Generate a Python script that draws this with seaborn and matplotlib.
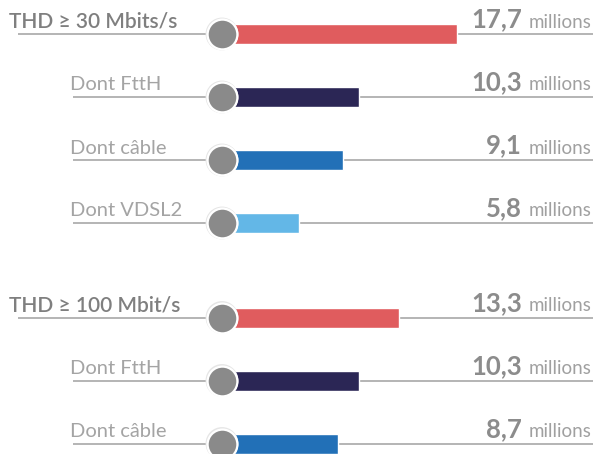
import matplotlib
matplotlib.use("Agg")
import matplotlib.pyplot as plt
import seaborn as sns
import pandas as pd
import numpy as np

# Categories and values (millions of lines)
labels = ["THD ≥ 30 Mbits/s", "Dont FttH", "Dont câble", "Dont VDSL2",
          "THD ≥ 100 Mbit/s", "Dont FttH", "Dont câble"]
values = [17.7, 10.3, 9.1, 5.8, 13.3, 10.3, 8.7]
value_text = ["17,7", "10,3", "9,1", "5,8", "13,3", "10,3", "8,7"]
is_header = [True, False, False, False, True, False, False]
bar_colors = ["#e05c5e", "#2b2655", "#2270b7", "#63b7e7",
              "#e05c5e", "#2b2655", "#2270b7"]
row_pos = [0, 1, 2, 3, 4.5, 5.5, 6.5]

sns.set_theme(style="white")
plt.rcParams["font.family"] = ["Lato", "DejaVu Sans"]

W, H = 593, 454
fig = plt.figure(figsize=(W / 100, H / 100), dpi=100)
ax = fig.add_axes([0, 0, 1, 1])

# pixel geometry helpers
x0_px = 222.0           # bar origin (circle centre)
px_per_unit = 13.3      # horizontal scale
row_px = 63.0           # vertical spacing between rows
top_px = 34.0           # first row centre

df = pd.DataFrame({"row": [f"r{i}" for i in range(len(labels))],
                   "value": values, "pos": row_pos})

sns.barplot(data=df, x="value", y="pos", hue="row", orient="h",
            palette=bar_colors, native_scale=True, dodge=False,
            width=20 / row_px, legend=False, ax=ax, zorder=2,
            saturation=1)

ax.set_xlim(-x0_px / px_per_unit, (W - x0_px) / px_per_unit)
ax.set_ylim((H - top_px) / row_px, -top_px / row_px)
ax.axis("off")

ytr = ax.get_yaxis_transform()

# guide lines behind the bars
for pos, hd in zip(row_pos, is_header):
    start = (18 if hd else 73) / W
    ax.hlines(pos, start, 1.0, transform=ytr, color="#b4b4b4",
              lw=1.4, zorder=1)

# circle markers at the origin of each bar
sns.scatterplot(x=np.zeros(len(values)), y=row_pos, s=560, color="#e6e6e6",
                edgecolor="none", ax=ax, zorder=3, legend=False)
sns.scatterplot(x=np.zeros(len(values)), y=row_pos, s=460, color="#8a8a8a",
                edgecolor="white", linewidth=1.6, ax=ax, zorder=4,
                legend=False)

# row labels and values
base = 6.5 / row_px
for lab, pos, hd, vt in zip(labels, row_pos, is_header, value_text):
    if hd:
        ax.text(9 / W, pos - base, lab, transform=ytr, ha="left",
                va="baseline", fontsize=15, color="#7f7f7f",
                fontweight="semibold")
    else:
        ax.text(70 / W, pos - base, lab, transform=ytr, ha="left",
                va="baseline", fontsize=14.5, color="#a4a4a4",
                fontweight="normal")
    ax.text(592 / W, pos - base, "millions", transform=ytr, ha="right",
            va="baseline", fontsize=13.5, color="#a0a0a0",
            fontweight="normal")
    ax.text(522 / W, pos - base, vt, transform=ytr, ha="right",
            va="baseline", fontsize=18.5, color="#8c8c8c",
            fontweight="bold")

fig.savefig("out.png", dpi=100)
